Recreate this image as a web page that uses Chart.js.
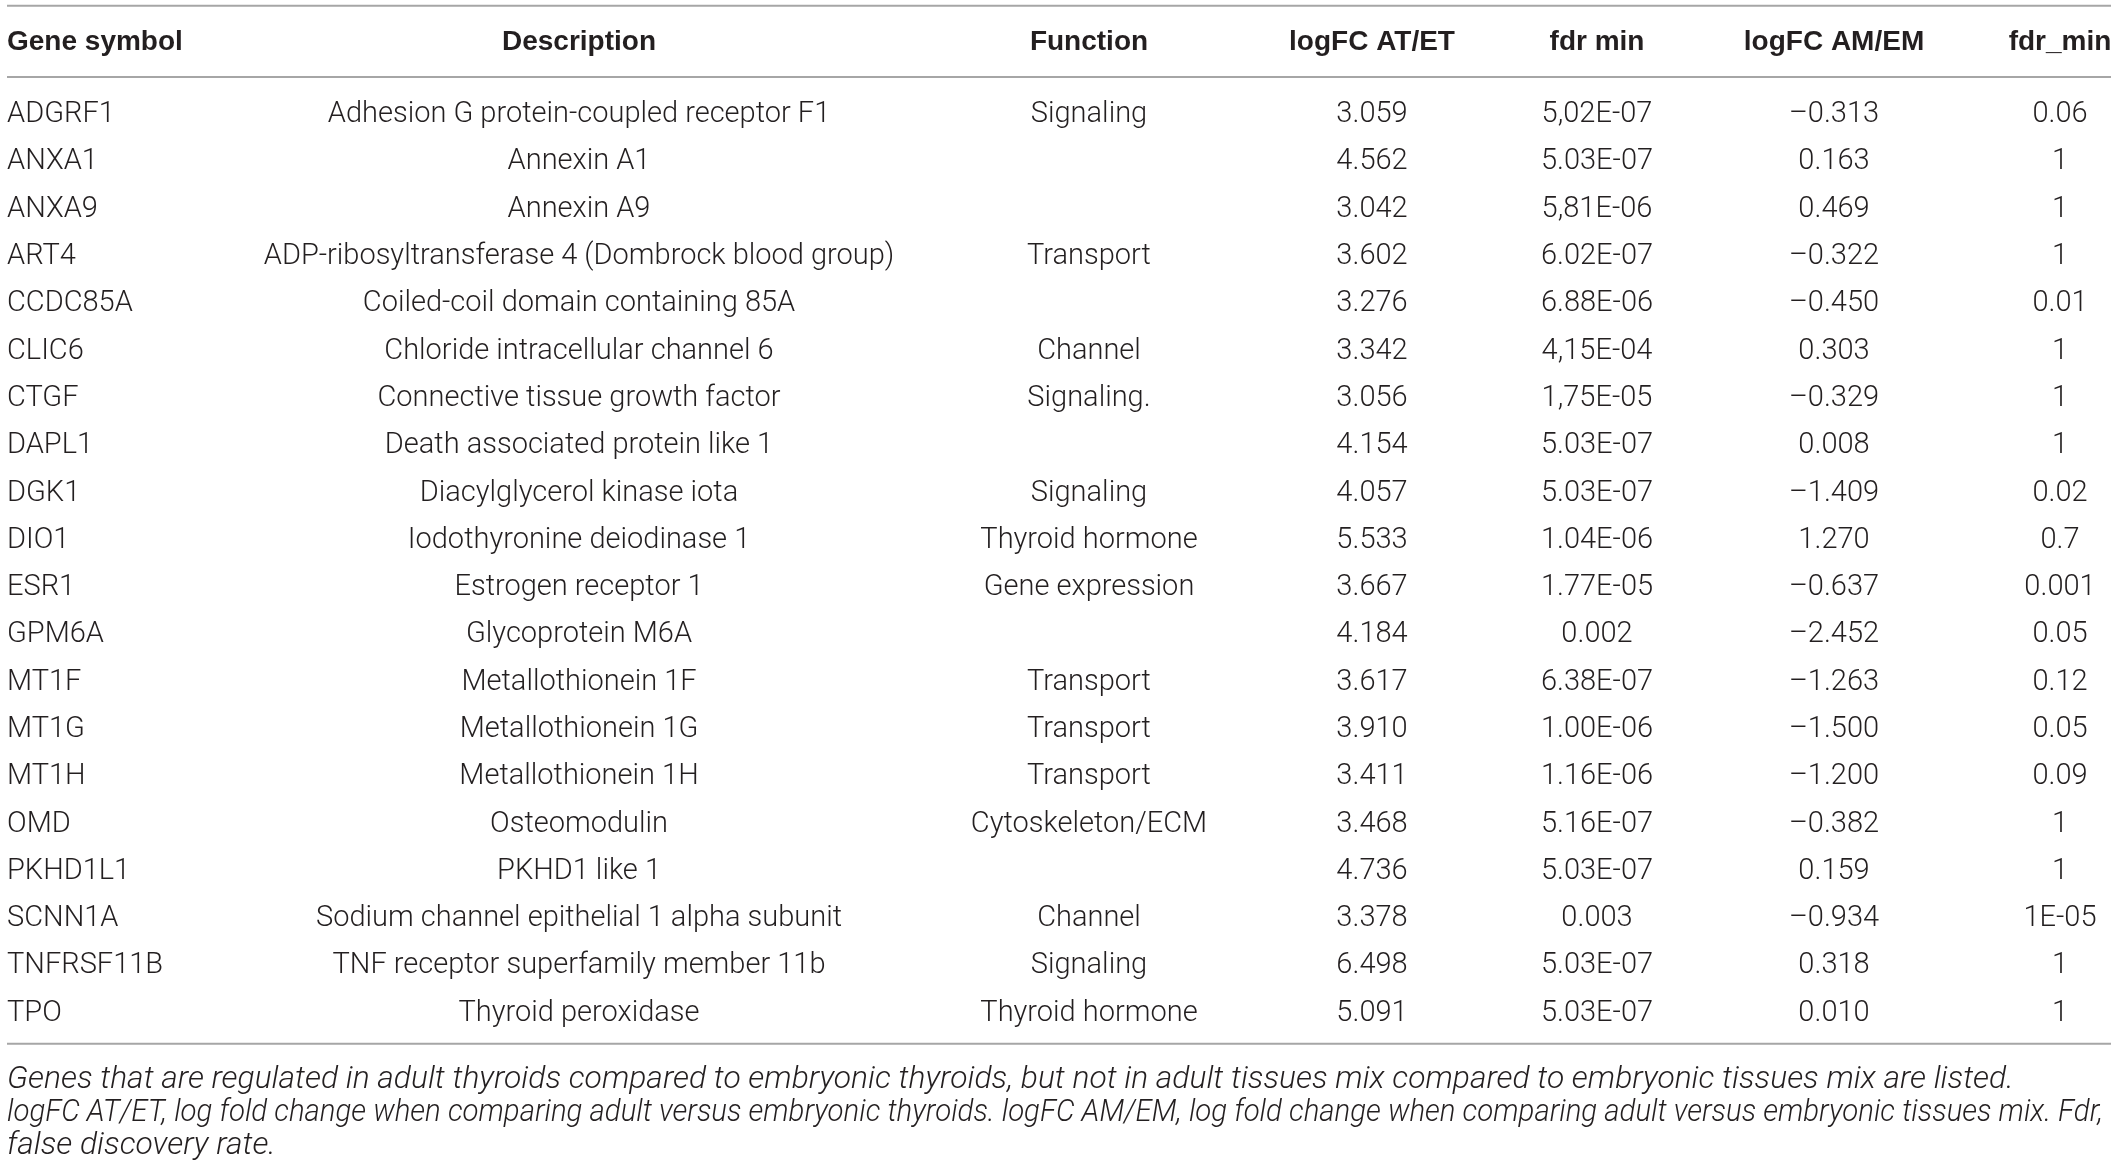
<!DOCTYPE html>
<html>
<head>
<meta charset="utf-8">
<script src="https://cdn.jsdelivr.net/npm/chart.js@4"></script>
<style>
    html, body { margin: 0; padding: 0; background: #fff; }
    #wrap { width: 2118px; height: 1170px; }
</style>
</head>
<body>
<div id="wrap"><canvas id="table"></canvas></div>
<script>
const headers = ['Gene symbol', 'Description', 'Function', 'logFC AT/ET', 'fdr min', 'logFC AM/EM', 'fdr_min'];

const genes = ['ADGRF1', 'ANXA1', 'ANXA9', 'ART4', 'CCDC85A', 'CLIC6', 'CTGF', 'DAPL1', 'DGK1', 'DIO1',
    'ESR1', 'GPM6A', 'MT1F', 'MT1G', 'MT1H', 'OMD', 'PKHD1L1', 'SCNN1A', 'TNFRSF11B', 'TPO'];

const descriptions = [
    'Adhesion G protein-coupled receptor F1',
    'Annexin A1',
    'Annexin A9',
    'ADP-ribosyltransferase 4 (Dombrock blood group)',
    'Coiled-coil domain containing 85A',
    'Chloride intracellular channel 6',
    'Connective tissue growth factor',
    'Death associated protein like 1',
    'Diacylglycerol kinase iota',
    'Iodothyronine deiodinase 1',
    'Estrogen receptor 1',
    'Glycoprotein M6A',
    'Metallothionein 1F',
    'Metallothionein 1G',
    'Metallothionein 1H',
    'Osteomodulin',
    'PKHD1 like 1',
    'Sodium channel epithelial 1 alpha subunit',
    'TNF receptor superfamily member 11b',
    'Thyroid peroxidase'
];

const functions = ['Signaling', '', '', 'Transport', '', 'Channel', 'Signaling.', '', 'Signaling', 'Thyroid hormone',
    'Gene expression', '', 'Transport', 'Transport', 'Transport', 'Cytoskeleton/ECM', '', 'Channel', 'Signaling', 'Thyroid hormone'];

const logfcAT = [3.059, 4.562, 3.042, 3.602, 3.276, 3.342, 3.056, 4.154, 4.057, 5.533,
    3.667, 4.184, 3.617, 3.910, 3.411, 3.468, 4.736, 3.378, 6.498, 5.091];

const fdrAT = ['5,02E-07', '5.03E-07', '5,81E-06', '6.02E-07', '6.88E-06', '4,15E-04', '1,75E-05', '5.03E-07', '5.03E-07', '1.04E-06',
    '1.77E-05', '0.002', '6.38E-07', '1.00E-06', '1.16E-06', '5.16E-07', '5.03E-07', '0.003', '5.03E-07', '5.03E-07'];

const logfcAM = [-0.313, 0.163, 0.469, -0.322, -0.450, 0.303, -0.329, 0.008, -1.409, 1.270,
    -0.637, -2.452, -1.263, -1.500, -1.200, -0.382, 0.159, -0.934, 0.318, 0.010];

const fdrAM = ['0.06', '1', '1', '1', '0.01', '1', '1', '1', '0.02', '0.7',
    '0.001', '0.05', '0.12', '0.05', '0.09', '1', '1', '1E-05', '1', '1'];

const footnotes = [
    'Genes that are regulated in adult thyroids compared to embryonic thyroids, but not in adult tissues mix compared to embryonic tissues mix are listed.',
    'logFC AT/ET, log fold change when comparing adult versus embryonic thyroids. logFC AM/EM, log fold change when comparing adult versus embryonic tissues mix. Fdr,',
    'false discovery rate.'
];

// layout (x in pixels, y in row units)
const colX = [7, 579, 1089, 1372, 1597, 1834, 2060];
const colAlign = ['left', 'center', 'center', 'center', 'center', 'center', 'center'];
const headerRow = -1.48;
const ruleRows = [-2.25, -0.74, 19.70];
const footRows = [20.40, 21.10, 21.80];
const textNudge = 0.06;
const ruleLeft = 7, ruleRight = 2111;
const footWidth = 2096;

const bodyFont = '300 29px Roboto';
const headFont = 'bold 28px "Liberation Sans"';
const footFont = 'italic 300 31.8px Roboto';
const ink = '#231f20';

function fmt(v) {
    return v < 0 ? '\u2013' + Math.abs(v).toFixed(3) : v.toFixed(3);
}

const columns = [genes, descriptions, functions, logfcAT.map(fmt), fdrAT, logfcAM.map(fmt), fdrAM];

const datasets = [];

ruleRows.forEach(r => {
    datasets.push({
        data: [{x: ruleLeft, y: r}, {x: ruleRight, y: r}],
        showLine: true,
        borderColor: '#a6a6a6',
        borderWidth: 2,
        pointRadius: 0
    });
});

datasets.push({
    data: headers.map((h, c) => ({x: colX[c], y: headerRow})),
    texts: headers,
    aligns: colAlign,
    font: headFont,
    pointRadius: 0
});

columns.forEach((col, c) => {
    datasets.push({
        data: col.map((t, i) => ({x: colX[c], y: i + textNudge})),
        texts: col,
        aligns: col.map(() => colAlign[c]),
        font: bodyFont,
        pointRadius: 0
    });
});

datasets.push({
    data: footnotes.map((t, i) => ({x: colX[0], y: footRows[i] + textNudge})),
    texts: footnotes,
    aligns: footnotes.map(() => 'left'),
    font: footFont,
    maxWidth: footWidth,
    pointRadius: 0
});

const cellText = {
    id: 'cellText',
    afterDatasetsDraw(chart) {
        const ctx = chart.ctx;
        chart.data.datasets.forEach((ds, i) => {
            if (!ds.texts) return;
            const meta = chart.getDatasetMeta(i);
            ctx.save();
            ctx.font = ds.font;
            ctx.fillStyle = ink;
            ctx.textBaseline = 'middle';
            meta.data.forEach((pt, j) => {
                ctx.textAlign = ds.aligns[j];
                if (ds.maxWidth) {
                    ctx.fillText(ds.texts[j], pt.x, pt.y, ds.maxWidth);
                } else {
                    ctx.fillText(ds.texts[j], pt.x, pt.y);
                }
            });
            ctx.restore();
        });
    }
};

const config = {
    type: 'scatter',
    data: {datasets: datasets},
    options: {
        responsive: true,
        maintainAspectRatio: false,
        animation: false,
        events: [],
        layout: {padding: 0},
        plugins: {
            legend: {display: false},
            tooltip: {enabled: false}
        },
        scales: {
            x: {type: 'linear', display: false, min: 0, max: 2118},
            y: {type: 'linear', display: false, min: -2.37, max: 22.37, reverse: true}
        }
    },
    plugins: [cellText]
};

document.fonts.load(bodyFont).then(() => document.fonts.load(footFont)).then(() => {
    new Chart(document.getElementById('table'), config);
}, () => {
    new Chart(document.getElementById('table'), config);
});
</script>
</body>
</html>
